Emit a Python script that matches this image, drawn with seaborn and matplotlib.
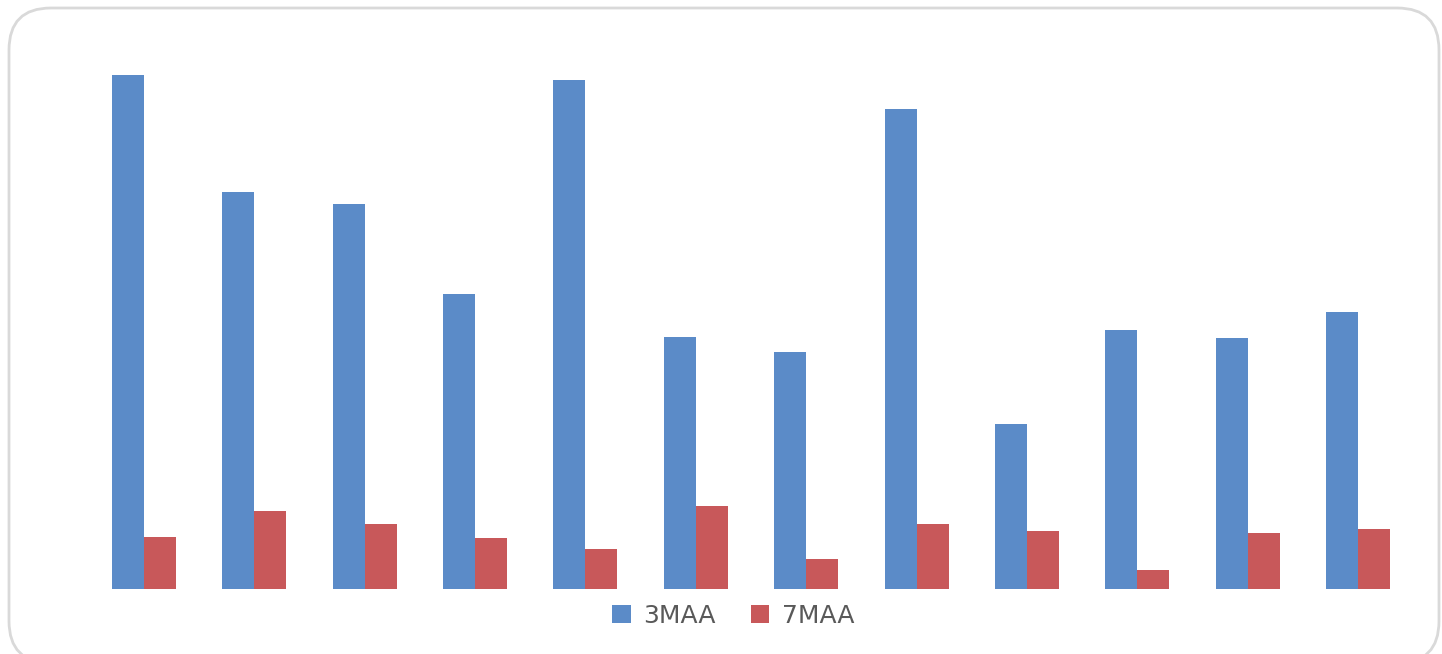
import pandas as pd
import seaborn as sns
import matplotlib.pyplot as plt
from matplotlib.patches import FancyBboxPatch

# values (bar heights, arbitrary units)
groups = [str(i) for i in range(1, 13)]
maa3 = [514, 397, 385, 295, 509, 252, 237, 480, 165, 259, 251, 277]
maa7 = [52, 78, 65, 51, 40, 83, 30, 65, 58, 19, 56, 60]
series = ["3MAA", "7MAA"]
colors = ["#5B8BC8", "#C8585A"]

df = pd.DataFrame({
    "group": groups * 2,
    "value": maa3 + maa7,
    "series": [series[0]] * len(groups) + [series[1]] * len(groups),
})

sns.set_style("white")
fig = plt.figure(figsize=(14.42, 6.54), dpi=100)

# rounded frame behind the chart
bg = fig.add_axes([0, 0, 1, 1])
bg.set_xlim(0, 1442)
bg.set_ylim(654, 0)
bg.axis("off")
bg.add_patch(FancyBboxPatch((9, 8), 1430, 655,
                            boxstyle="round,pad=0,rounding_size=42",
                            facecolor="white", edgecolor="#D9D9D9", linewidth=2))

ax = fig.add_axes([88.8 / 1442, 1 - 589 / 654, 1324.4 / 1442, 529 / 654])
ax.patch.set_alpha(0)
sns.barplot(data=df, x="group", y="value", hue="series", palette=colors,
            width=0.58, gap=0, saturation=1, linewidth=0, ax=ax)
ax.set_xlim(-0.5, 11.5)
ax.set_ylim(0, 529)
ax.axis("off")

ax.legend(loc="center", bbox_to_anchor=(733 / 1442, 1 - 616 / 654),
          bbox_transform=fig.transFigure, ncol=2, frameon=False,
          fontsize=18, labelcolor="#595959", handlelength=0.75,
          handleheight=0.75, handletextpad=0.5, columnspacing=1.4)

fig.savefig("out.png", dpi=100)
